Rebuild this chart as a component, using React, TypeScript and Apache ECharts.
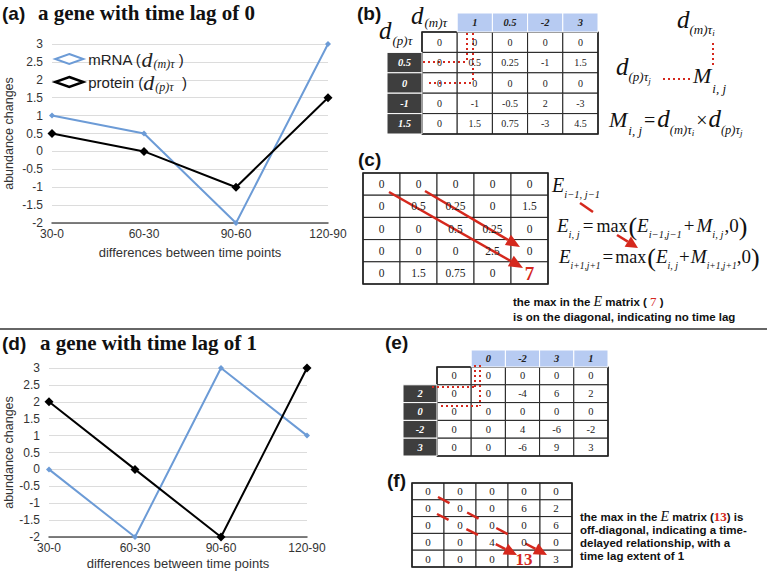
import { useEffect, useRef } from 'react';
import * as echarts from 'echarts';

const SANS = '"Liberation Sans", Arial, sans-serif';
const SERIF = '"Liberation Serif", "Times New Roman", serif';
const BLUE = '#6c9bd6';
const RED = '#d5281d';

const categories = ['30-0', '60-30', '90-60', '120-90'];
const mrnaA = [1, 0.5, -2, 3];
const proteinA = [0.5, 0, -1, 1.5];
const mrnaD = [0, -2, 3, 1];
const proteinD = [2, 0, -2, 3];

const headB = ['1', '0.5', '-2', '3'];
const rowHeadB = ['0.5', '0', '-1', '1.5'];
const matrixB = [
  ['0', '0', '0', '0', '0'],
  ['0', '0.5', '0.25', '-1', '1.5'],
  ['0', '0', '0', '0', '0'],
  ['0', '-1', '-0.5', '2', '-3'],
  ['0', '1.5', '0.75', '-3', '4.5'],
];
const matrixC = [
  ['0', '0', '0', '0', '0'],
  ['0', '0.5', '0.25', '0', '1.5'],
  ['0', '0', '0.5', '0.25', '0'],
  ['0', '0', '0', '2.5', '0'],
  ['0', '1.5', '0.75', '0', '7'],
];
const headE = ['0', '-2', '3', '1'];
const rowHeadE = ['2', '0', '-2', '3'];
const matrixE = [
  ['0', '0', '0', '0', '0'],
  ['0', '0', '-4', '6', '2'],
  ['0', '0', '0', '0', '0'],
  ['0', '0', '4', '-6', '-2'],
  ['0', '0', '-6', '9', '3'],
];
const matrixF = [
  ['0', '0', '0', '0', '0'],
  ['0', '0', '0', '6', '2'],
  ['0', '0', '0', '0', '6'],
  ['0', '0', '4', '0', '0'],
  ['0', '0', '0', '13', '3'],
];

let mctx: CanvasRenderingContext2D | null = null;
function tw(text: string, size: number, family: string, italic?: boolean, bold?: boolean) {
  if (!mctx) mctx = document.createElement('canvas').getContext('2d');
  if (!mctx) return text.length * size * 0.5;
  mctx.font = `${italic ? 'italic ' : ''}${bold ? 'bold ' : ''}${size}px ${family}`;
  return mctx.measureText(text).width;
}

type P = { t: string; s: number; dy?: number; dx?: number; i?: boolean; b?: boolean; f?: string; c?: string };

function txt(x: number, y: number, text: string, size: number, o: any = {}) {
  const align = o.align ?? 'left';
  return {
    type: 'text',
    x,
    y,
    silent: true,
    z: 10,
    style: {
      text,
      fontSize: size,
      fontFamily: o.f ?? SERIF,
      fontStyle: o.i ? 'italic' : 'normal',
      fontWeight: o.b ? 'bold' : 'normal',
      fill: o.c ?? '#111',
      align,
      textAlign: align,
      verticalAlign: 'middle',
      textVerticalAlign: 'middle',
    },
  };
}

function mathText(x: number, base: number, parts: P[], els: any[]) {
  let cx = x;
  for (const p of parts) {
    cx += p.dx ?? 0;
    const fam = p.f ?? SERIF;
    els.push(txt(cx, base + (p.dy ?? 0) - 0.34 * p.s, p.t, p.s, { f: fam, i: p.i, b: p.b, c: p.c }));
    cx += tw(p.t, p.s, fam, p.i, p.b);
  }
  return cx;
}

function rect(x: number, y: number, w: number, h: number, fill: string, stroke: string, lw: number) {
  return { type: 'rect', silent: true, z: 5, shape: { x, y, width: w, height: h }, style: { fill, stroke, lineWidth: lw } };
}

function seg(x1: number, y1: number, x2: number, y2: number, stroke: string, lw: number, dash?: number[]) {
  return {
    type: 'line',
    silent: true,
    z: 8,
    shape: { x1, y1, x2, y2 },
    style: { stroke, lineWidth: lw, lineDash: dash ?? null, lineCap: 'butt' },
  };
}

function arrow(x1: number, y1: number, x2: number, y2: number, els: any[], dash?: number[], head = 12, hw = 5, lw = 2.5) {
  const a = Math.atan2(y2 - y1, x2 - x1);
  const bx = x2 - head * Math.cos(a);
  const by = y2 - head * Math.sin(a);
  els.push(seg(x1, y1, bx, by, RED, lw, dash));
  els.push({
    type: 'polygon',
    silent: true,
    z: 8,
    shape: { points: [[x2, y2], [bx + hw * Math.sin(a), by - hw * Math.cos(a)], [bx - hw * Math.sin(a), by + hw * Math.cos(a)]] },
    style: { fill: RED },
  });
}

function bodyTable(x0: number, y0: number, cw: number, rh: number, data: string[][], fs: number, bg: any[], texts: any[], big?: { r: number; c: number; s: number }) {
  data.forEach((row, r) =>
    row.forEach((v, c) => {
      bg.push(rect(x0 + c * cw, y0 + r * rh, cw, rh, '#fff', '#222', 1));
      if (big && big.r === r && big.c === c) {
        texts.push(txt(x0 + (c + 0.5) * cw, y0 + (r + 0.5) * rh + 1, v, big.s, { b: true, c: RED, align: 'center' }));
      } else {
        texts.push(txt(x0 + (c + 0.5) * cw, y0 + (r + 0.5) * rh, v, fs, { c: '#222', align: 'center' }));
      }
    })
  );
  bg.push(rect(x0, y0, cw * data[0].length, rh * data.length, 'none', '#222', 1.6));
}

function headers(x0: number, y0: number, cw: number, rh: number, hh: number, dx0: number, head: string[], rowHead: string[], fs: number, bg: any[], texts: any[]) {
  head.forEach((v, j) => {
    const x = x0 + (j + 1) * cw;
    bg.push(rect(x, y0 - hh, cw, hh, '#b7cbf2', '#fff', 1));
    texts.push(txt(x + cw / 2, y0 - hh / 2, v, fs, { b: true, i: true, c: '#222', align: 'center' }));
  });
  rowHead.forEach((v, r) => {
    const y = y0 + (r + 1) * rh;
    bg.push(rect(dx0, y, x0 - dx0, rh, '#3e3e3e', '#fff', 1));
    texts.push(txt((dx0 + x0) / 2, y + rh / 2, v, fs, { b: true, i: true, c: '#fff', align: 'center' }));
  });
}

function buildGraphics() {
  const bg: any[] = [];
  const ov: any[] = [];
  const tx: any[] = [];
  const dot = [2, 3];

  // panel labels and titles
  tx.push(txt(2, 13, '(a)', 19, { f: SANS, b: true }));
  tx.push(txt(38, 13, 'a gene with time lag of 0', 21, { b: true }));
  tx.push(txt(2, 343, '(d)', 19, { f: SANS, b: true }));
  tx.push(txt(40, 343, 'a gene with time lag of 1', 21, { b: true }));
  tx.push(txt(357, 13, '(b)', 19, { f: SANS, b: true }));
  tx.push(txt(358, 159, '(c)', 19, { f: SANS, b: true }));
  tx.push(txt(385, 342, '(e)', 19, { f: SANS, b: true }));
  tx.push(txt(387, 480, '(f)', 19, { f: SANS, b: true }));

  // separator
  bg.push(seg(0, 329, 767, 329, '#666', 2));

  // (b) table
  const bx = 422, by = 32, bcw = 35.2, brh = 20.4;
  bodyTable(bx, by, bcw, brh, matrixB, 10, bg, tx);
  headers(bx, by, bcw, brh, 19, 387, headB, rowHeadB, 10.5, bg, tx);
  ov.push(seg(467, 33, 467, 62, RED, 2, dot));
  ov.push(seg(473, 33, 473, 83, RED, 2, dot));
  ov.push(seg(423, 62, 467, 62, RED, 2, dot));
  ov.push(seg(429, 83, 473, 83, RED, 2, dot));
  mathText(411, 24, [{ t: 'd', s: 25, i: true }, { t: '(m)τ', s: 13, i: true, dy: 3, dx: 1 }], tx);
  mathText(379, 39, [{ t: 'd', s: 25, i: true }, { t: '(p)τ', s: 13, i: true, dy: 6, dx: 1 }], tx);

  // (b) right annotations
  mathText(677, 28, [{ t: 'd', s: 25, i: true }, { t: '(m)τ', s: 13, i: true, dy: 6 }, { t: 'i', s: 9, i: true, dy: 8 }], tx);
  ov.push(seg(713, 43, 713, 65, RED, 2, dot));
  mathText(616, 75, [{ t: 'd', s: 25, i: true }, { t: '(p)τ', s: 13, i: true, dy: 6 }, { t: 'j', s: 9, i: true, dy: 9 }], tx);
  ov.push(seg(663, 79, 690, 79, RED, 2, dot));
  mathText(693, 83, [{ t: 'M', s: 22, i: true }, { t: 'i, j', s: 13, i: true, dy: 10, dx: 1 }], tx);
  mathText(609, 127, [
    { t: 'M', s: 22, i: true },
    { t: 'i, j', s: 13, i: true, dy: 8, dx: 1 },
    { t: '=', s: 20, dx: 2 },
    { t: 'd', s: 25, i: true, dx: 2 },
    { t: '(m)τ', s: 12.5, i: true, dy: 7 },
    { t: 'i', s: 9, i: true, dy: 9 },
    { t: '×', s: 20, dx: 2 },
    { t: 'd', s: 25, i: true, dx: 1 },
    { t: '(p)τ', s: 12.5, i: true, dy: 7 },
    { t: 'j', s: 9, i: true, dy: 9 },
  ], tx);

  // (c) table
  bodyTable(363, 173, 37, 22.2, matrixC, 11.5, bg, tx, { r: 4, c: 4, s: 19 });
  arrow(389, 192, 523, 268, ov, undefined, 14, 6, 2.5);
  arrow(425, 191, 520, 247, ov, undefined, 14, 6, 2.5);
  mathText(552, 192, [{ t: 'E', s: 20, i: true }, { t: 'i−1, j−1', s: 10.5, i: true, dy: 6 }], tx);
  ov.push(seg(580, 203, 593, 212, RED, 2.5));
  mathText(557, 232, [
    { t: 'E', s: 19, i: true },
    { t: 'i, j', s: 10.5, i: true, dy: 6 },
    { t: '=', s: 19, dx: 3 },
    { t: 'max', s: 18, dx: 3 },
    { t: '(', s: 26, dx: 1, dy: 3 },
    { t: 'E', s: 19, i: true },
    { t: 'i−1,j−1', s: 10.5, i: true, dy: 6 },
    { t: '+', s: 19, dx: 2 },
    { t: 'M', s: 19, i: true, dx: 2 },
    { t: 'i, j', s: 10.5, i: true, dy: 6 },
    { t: ',0', s: 19, dx: 1 },
    { t: ')', s: 26, dy: 3 },
  ], tx);
  arrow(617, 235, 638, 248, ov, undefined, 12, 6, 2.5);
  mathText(559, 263, [
    { t: 'E', s: 19, i: true },
    { t: 'i+1,j+1', s: 9.5, i: true, dy: 6 },
    { t: '=', s: 19, dx: 2 },
    { t: 'max', s: 18, dx: 2 },
    { t: '(', s: 26, dx: 1, dy: 3 },
    { t: 'E', s: 19, i: true },
    { t: 'i, j', s: 10, i: true, dy: 6 },
    { t: '+', s: 19, dx: 1 },
    { t: 'M', s: 19, i: true, dx: 1 },
    { t: 'i+1,j+1', s: 9.5, i: true, dy: 6 },
    { t: ',0', s: 19 },
    { t: ')', s: 26, dy: 3 },
  ], tx);
  mathText(513, 306, [
    { t: 'the max in the ', s: 11.5, f: SANS, b: true },
    { t: 'E', s: 14, i: true },
    { t: ' matrix ( ', s: 11.5, f: SANS, b: true },
    { t: '7', s: 13, c: RED },
    { t: ' )', s: 11.5, f: SANS, b: true },
  ], tx);
  mathText(513, 321, [{ t: 'is on the diagonal, indicating no time lag', s: 11.5, f: SANS, b: true }], tx);

  // (e) table
  const ex = 437, ey = 367, ecw = 34.2, erh = 17.8;
  bodyTable(ex, ey, ecw, erh, matrixE, 10.5, bg, tx);
  headers(ex, ey, ecw, erh, 17, 403, headE, rowHeadE, 10.5, bg, tx);
  ov.push(seg(475, 365, 475, 387, RED, 2, dot));
  ov.push(seg(480, 365, 480, 406, RED, 2, dot));
  ov.push(seg(432, 387, 475, 387, RED, 2, dot));
  ov.push(seg(441, 406, 480, 406, RED, 2, dot));

  // (f) table
  bodyTable(412, 483, 32, 16.8, matrixF, 11, bg, tx, { r: 4, c: 3, s: 17 });
  arrow(437, 514, 517, 555, ov, [13, 20], 13, 6, 2.5);
  arrow(438, 497, 547, 555, ov, [13, 20], 13, 6, 2.5);
  mathText(580, 521, [
    { t: 'the max in the ', s: 11.5, f: SANS, b: true },
    { t: 'E', s: 14, i: true },
    { t: ' matrix (', s: 11.5, f: SANS, b: true },
    { t: '13', s: 13, b: true, c: RED },
    { t: ') is', s: 11.5, f: SANS, b: true },
  ], tx);
  mathText(580, 534, [{ t: 'off-diagonal, indicating a time-', s: 11.5, f: SANS, b: true }], tx);
  mathText(580, 547, [{ t: 'delayed relationship, with a', s: 11.5, f: SANS, b: true }], tx);
  mathText(580, 560, [{ t: 'time lag extent of 1', s: 11.5, f: SANS, b: true }], tx);

  return [...bg, ...ov, ...tx];
}

function axes(i: number, yGap: number, xGap: number) {
  return {
    x: {
      type: 'category',
      gridIndex: i,
      data: categories,
      boundaryGap: false,
      axisTick: { show: false },
      axisLine: { onZero: false, lineStyle: { color: '#555', width: 1.5 } },
      axisLabel: { color: '#333', fontSize: 12, fontFamily: SANS, margin: 5 },
      splitLine: { show: false },
      name: 'differences between time points',
      nameLocation: 'middle',
      nameGap: xGap,
      nameTextStyle: { color: '#333', fontSize: 13, fontFamily: SANS },
    },
    y: {
      type: 'value',
      gridIndex: i,
      min: -2,
      max: 3,
      interval: 0.5,
      axisLine: { show: false },
      axisTick: { show: false },
      splitLine: { lineStyle: { color: '#dcdcdc', width: 1 } },
      axisLabel: { color: '#333', fontSize: 12, fontFamily: SANS, margin: 9 },
      name: 'abundance changes',
      nameLocation: 'middle',
      nameGap: yGap,
      nameTextStyle: { color: '#333', fontSize: 12.5, fontFamily: SANS },
    },
  };
}

export default function App() {
  const ref = useRef<HTMLDivElement>(null);
  useEffect(() => {
    document.body.style.margin = '0';
    if (!ref.current) return;
    const chart = echarts.init(ref.current, undefined, { renderer: 'svg' });
    const a0 = axes(0, 37, 23);
    const a1 = axes(1, 34, 20);
    const rich = {
      n: { fontSize: 15, fontFamily: SANS, color: '#222', lineHeight: 18 },
      d: { fontSize: 22, fontFamily: SERIF, fontStyle: 'italic', color: '#222', lineHeight: 18 },
      s: { fontSize: 12, fontFamily: SERIF, fontStyle: 'italic', color: '#222', lineHeight: 8, padding: [10, 0, 0, 1] },
    };
    chart.setOption({
      animation: false,
      backgroundColor: '#fff',
      grid: [
        { left: 52, top: 44, width: 276, height: 179 },
        { left: 49, top: 368, width: 258, height: 169 },
      ],
      xAxis: [a0.x, a1.x],
      yAxis: [a0.y, a1.y],
      legend: {
        left: 49,
        top: 43,
        orient: 'vertical',
        itemWidth: 28,
        itemHeight: 10,
        itemGap: 1,
        selectedMode: false,
        data: [
          { name: 'mRNA', icon: 'diamond', itemStyle: { color: '#fff', borderColor: BLUE, borderWidth: 2 } },
          { name: 'protein', icon: 'diamond', itemStyle: { color: '#fff', borderColor: '#000', borderWidth: 2.5 } },
        ],
        formatter: (n: string) =>
          n === 'mRNA' ? '{n|mRNA (}{d|d}{s|(m)τ}{n| )}' : '{n|protein (}{d|d}{s|(p)τ}{n|  )}',
        textStyle: { rich },
      },
      series: [
        { name: 'mRNA', type: 'line', xAxisIndex: 0, yAxisIndex: 0, data: mrnaA, symbol: 'diamond', symbolSize: 6, lineStyle: { color: BLUE, width: 2 }, itemStyle: { color: BLUE } },
        { name: 'protein', type: 'line', xAxisIndex: 0, yAxisIndex: 0, data: proteinA, symbol: 'diamond', symbolSize: 9, lineStyle: { color: '#000', width: 2 }, itemStyle: { color: '#000' } },
        { name: 'mRNA (d)', type: 'line', xAxisIndex: 1, yAxisIndex: 1, data: mrnaD, symbol: 'diamond', symbolSize: 6, lineStyle: { color: BLUE, width: 2 }, itemStyle: { color: BLUE } },
        { name: 'protein (d)', type: 'line', xAxisIndex: 1, yAxisIndex: 1, data: proteinD, symbol: 'diamond', symbolSize: 9, lineStyle: { color: '#000', width: 2 }, itemStyle: { color: '#000' } },
      ],
      graphic: { elements: buildGraphics() },
    });
    return () => chart.dispose();
  }, []);
  return <div ref={ref} style={{ width: 767, height: 572 }} />;
}
